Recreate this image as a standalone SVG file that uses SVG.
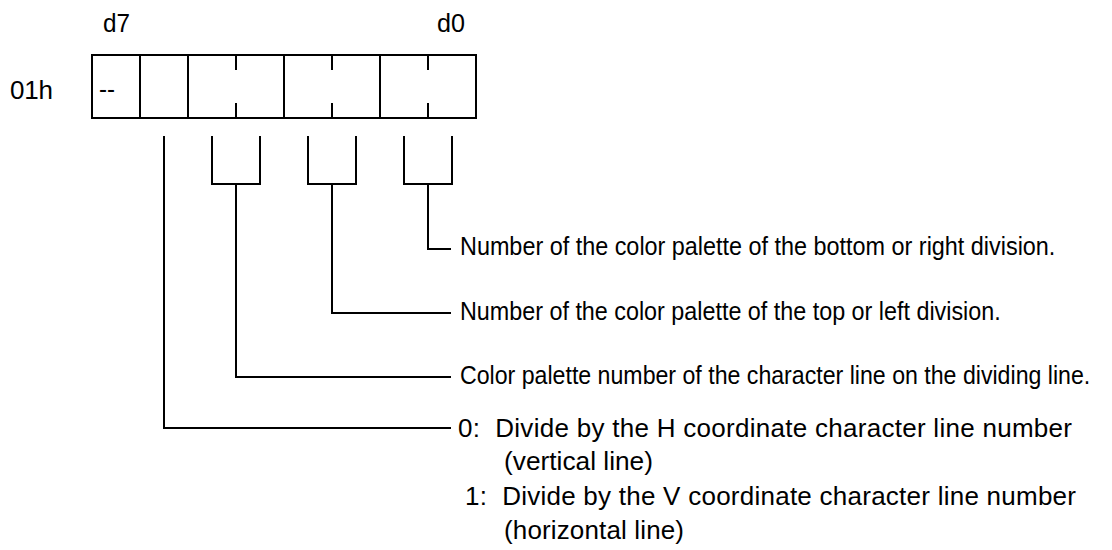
<svg xmlns="http://www.w3.org/2000/svg" width="1112" height="550" viewBox="0 0 1112 550">
<style>
  .ln { fill: none; stroke: #000; stroke-width: 2; stroke-linecap: butt; stroke-linejoin: miter; }
  .t { font-family: "Liberation Sans", Arial, sans-serif; font-size: 26px; fill: #000; }
</style>
<rect x="0" y="0" width="1112" height="550" fill="#fff"/>
<g id="header-labels">
  <text class="t" x="103" y="32" textLength="27" lengthAdjust="spacingAndGlyphs">d7</text>
  <text class="t" x="437" y="32" textLength="28" lengthAdjust="spacingAndGlyphs">d0</text>
  <text class="t" x="10" y="98.5" textLength="43" lengthAdjust="spacing">01h</text>
</g>
<g id="register-01h">
  <rect class="ln" x="92" y="55" width="384" height="63"/>
  <path class="ln" d="M140 55V118M188 55V118M284 55V118M380 55V118"/>
  <path class="ln" d="M236 55V70M236 103V118M332 55V70M332 103V118M428 55V70M428 103V118"/>
  <text class="t" x="99" y="98" textLength="16" lengthAdjust="spacingAndGlyphs">--</text>
</g>
<g id="connectors">
  <path class="ln" d="M164 136V428H451"/>
  <path class="ln" d="M212 136V184H260V136M236 184V377H451"/>
  <path class="ln" d="M308 136V184H356V136M332 184V313H451"/>
  <path class="ln" d="M404 136V184H452V136M428 184V249H451"/>
</g>
<g id="desc-bottom-right">
  <text class="t" transform="translate(460 255) scale(0.9 1)" x="0" y="0">Number of the color palette of the bottom or right division.</text>
</g>
<g id="desc-top-left">
  <text class="t" transform="translate(460 320) scale(0.898 1)" x="0" y="0">Number of the color palette of the top or left division.</text>
</g>
<g id="desc-line-color">
  <text class="t" transform="translate(460 384) scale(0.89 1)" x="0" y="0">Color palette number of the character line on the dividing line.</text>
</g>
<g id="desc-direction">
  <text class="t" x="458" y="437" textLength="614" lengthAdjust="spacing" xml:space="preserve">0:  Divide by the H coordinate character line number</text>
  <text class="t" x="504" y="470" textLength="149" lengthAdjust="spacingAndGlyphs">(vertical line)</text>
  <text class="t" x="465" y="505" textLength="611" lengthAdjust="spacing" xml:space="preserve">1:  Divide by the V coordinate character line number</text>
  <text class="t" x="504" y="539" textLength="180" lengthAdjust="spacing">(horizontal line)</text>
</g>
</svg>
